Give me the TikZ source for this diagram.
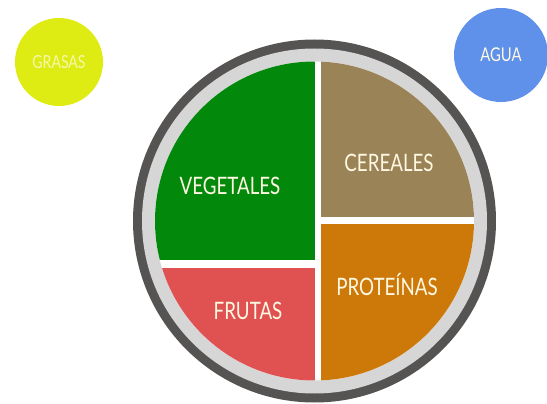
\documentclass[tikz,border=0pt]{standalone}
\usepackage{fontspec}
\setmainfont{Lato}[FakeStretch=0.78]

\definecolor{rimDark}{RGB}{86,83,83}
\definecolor{rimLight}{RGB}{214,214,214}
\definecolor{vegGreen}{RGB}{2,137,12}
\definecolor{cerTan}{RGB}{155,131,88}
\definecolor{proOrange}{RGB}{205,121,10}
\definecolor{fruRed}{RGB}{224,82,82}
\definecolor{graLime}{RGB}{222,236,20}
\definecolor{aguBlue}{RGB}{95,145,235}
\definecolor{labCream}{RGB}{255,248,226}

\begin{document}
\begin{tikzpicture}[x=1pt,y=1pt,yscale=-1,xscale=1]
\tikzset{
  plateLabel/.style={text=labCream, font=\fontsize{24}{24}\selectfont, inner sep=0pt},
  sideDot/.style={circle, inner sep=0pt, text=labCream}
}
\useasboundingbox (0,0) rectangle (547,404);

%Shape: Plate rim
\coordinate (plate) at (314.5,221);
\fill [rimDark] (plate) circle (181.5pt);
\fill [rimLight] (plate) circle (172.5pt);
\fill [white] (plate) circle (159.5pt);

%Shape: Plate quarters
\begin{scope}
\clip (plate) circle (159.5pt);
\fill [vegGreen] (150,55) rectangle (315,260);
\fill [fruRed] (150,268) rectangle (315,385);
\fill [cerTan] (321,55) rectangle (480,217);
\fill [proOrange] (321,224) rectangle (480,385);
\end{scope}

% Text Node
\node [plateLabel] (vegetales) at (230,186) {VEGETALES};
% Text Node
\node [plateLabel] (cereales) at (389,163) {CEREALES};
% Text Node
\node [plateLabel] (proteinas) at (387,284) {PROTEÍNAS};
% Text Node
\node [plateLabel] (frutas) at (248,311) {FRUTAS};

%Shape: Circle
\node [sideDot, fill=graLime, minimum size=88pt, text={rgb,255:red,246;green,248;blue,170},
  font=\fontsize{18}{18}\selectfont] (grasas) at (59,62) {GRASAS};
%Shape: Circle
\node [sideDot, fill=aguBlue, minimum size=94pt,
  font=\fontsize{19}{19}\selectfont] (agua) at (501,55) {AGUA};

\end{tikzpicture}
\end{document}
